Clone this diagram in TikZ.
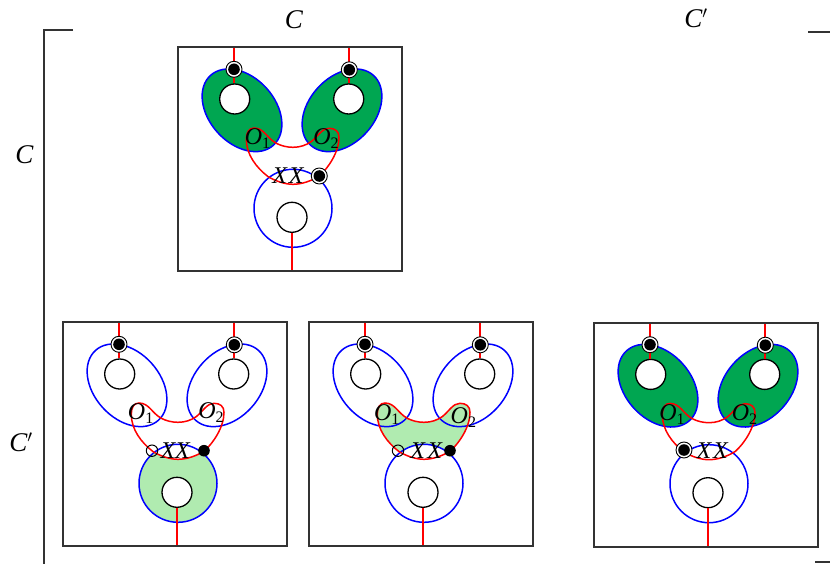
\documentclass[tikz,border=0pt]{standalone}
\usepackage{fontspec}
\setmainfont{Liberation Serif}
\definecolor{dgreen}{RGB}{0,166,81}
\definecolor{lgreen}{RGB}{176,235,176}
\tikzset{
  frame/.style={draw=black!80,line width=2pt,fill=white},
  blueline/.style={draw=blue,line width=1.5pt},
  redline/.style={draw=red,line width=1.5pt},
  stemline/.style={draw=red,line width=2pt},
  hole/.style={draw=black,line width=1.3pt,fill=white},
  lab/.style={font=\fontsize{24}{24}\selectfont\itshape,inner sep=0pt},
  head/.style={font=\fontsize{27}{27}\selectfont\itshape,inner sep=0pt},
  rule/.style={draw=black!80,line width=2pt},
}
\def\redshape{(141.3,128.7) .. controls (133,134) and (123,137) .. (115,137)
 .. controls (107,137) and (98,134) .. (90,129.3)
 .. controls (78,120) and (68.3,107) .. (68.3,92)
 .. controls (68.3,85) and (71,80.7) .. (76,80.7)
 .. controls (86,80.7) and (89,91) .. (98.3,96)
 .. controls (103,98.5) and (109,100) .. (115,100)
 .. controls (122,100) and (128,98) .. (133.3,94.3)
 .. controls (140,89) and (144,81) .. (151,81)
 .. controls (157,81) and (161,84) .. (161,90)
 .. controls (161,105) and (150,121) .. (141.3,128.7) -- cycle}
\def\ellL{(64,63) ellipse[x radius=47,y radius=33,rotate=-48]}
\def\ellR{(164,63) ellipse[x radius=47,y radius=33,rotate=48]}
\def\bigc{(115,161) circle[radius=39]}
\newcommand{\ringdot}[2]{%
  \fill[white] (#1,#2) circle[radius=8];
  \draw[black,line width=.9pt] (#1,#2) circle[radius=8];
  \fill[black] (#1,#2) circle[radius=5.8];}
\newcommand{\skeleton}{%
  \draw[blueline] \ellL;
  \draw[blueline] \ellR;
  \draw[blueline] \bigc;
  \draw[redline] \redshape;
  \draw[hole] (56.7,51.7) circle[radius=15];
  \draw[hole] (170.7,51.7) circle[radius=15];
  \draw[hole] (114,170) circle[radius=15];
  \draw[stemline] (56,1) -- (56,36);
  \draw[stemline] (171.3,1) -- (171.3,36);
  \draw[stemline] (113.7,185.5) -- (113.7,223);
  \ringdot{56}{22}\ringdot{171.3}{22.5}}
\newcommand{\subtxt}[1]{\raisebox{-4pt}{\fontsize{16}{16}\selectfont\upshape #1}}
\newcommand{\xxo}[6]{%
  \node[lab] at (#1,#2) {O\subtxt{1}};
  \node[lab] at (#3,#4) {O\subtxt{2}};
  \node[lab] at (#5,128) {X};
  \node[lab] at (#6,128) {X};}
\begin{document}
\begin{tikzpicture}[x=1pt,y=-1pt]
\useasboundingbox (0,0) rectangle (830,564);
\draw[rule] (73,30.5) -- (44,30.5) -- (44,564);
\draw[rule] (808,32) -- (830,32);
\draw[rule] (815,562) -- (830,562);
\node[head] (cTop) at (294,20) {C};
\node[head] (cpTop) at (696,18) {C$'$};
\node[head] (cLeft) at (24.5,155) {C};
\node[head] (cpLeft) at (21,442) {C$'$};

% panel 1
\begin{scope}[shift={(178,47.3)}]
\draw[frame] (0,0) rectangle (224,224);
\fill[dgreen] \ellL; \fill[dgreen] \ellR;
\skeleton
\ringdot{141.3}{128.7}
\xxo{79.5}{91}{148}{91}{101.7}{118.3}
\end{scope}

% panel 2
\begin{scope}[shift={(63,322.3)}]
\draw[frame] (0,0) rectangle (224,224);
\fill[lgreen] \bigc;
\fill[white] \redshape;
\skeleton
\draw[black,line width=1pt] (89,128.4) circle[radius=5.7];
\fill[black] (141,128.4) circle[radius=5.8];
\xxo{77.6}{91.5}{148}{90.5}{105}{119.5}
\end{scope}

% panel 3
\begin{scope}[shift={(309,322.3)}]
\draw[frame] (0,0) rectangle (224,224);
\fill[lgreen] \redshape;
\fill[white] \bigc;
\skeleton
\draw[black,line width=1pt] (89,128.4) circle[radius=5.7];
\fill[black] (141,128.4) circle[radius=5.8];
\xxo{77.8}{92.5}{154.4}{95}{108.7}{125.7}
\end{scope}

% panel 4
\begin{scope}[shift={(594,322.7)}]
\draw[frame] (0,0) rectangle (224,224);
\fill[dgreen] \ellL; \fill[dgreen] \ellR;
\skeleton
\ringdot{90}{127.3}
\xxo{78}{92}{150.5}{92}{110}{126.4}
\end{scope}
\end{tikzpicture}
\end{document}
